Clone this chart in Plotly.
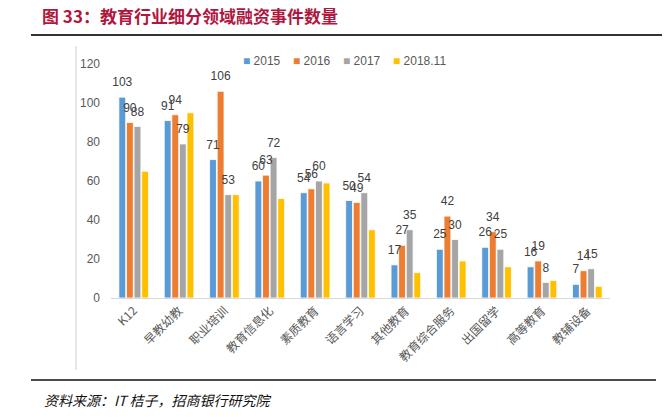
import plotly.graph_objects as go

# categories and series
categories = ["K12", "早教幼教", "职业培训", "教育信息化", "素质教育", "语言学习",
              "其他教育", "教育综合服务", "出国留学", "高等教育", "教辅设备"]
series_names = ["2015", "2016", "2017", "2018.11"]
v2015 = [103, 91, 71, 60, 54, 50, 17, 25, 26, 16, 7]
v2016 = [90, 94, 106, 63, 56, 49, 27, 42, 34, 19, 14]
v2017 = [88, 79, 53, 72, 60, 54, 35, 30, 25, 8, 15]
v2018 = [65, 95, 53, 51, 59, 35, 13, 19, 16, 9, 6]
y_ticks = [0, 20, 40, 60, 80, 100, 120]

colors = ["#5B9BD5", "#ED7D31", "#A5A5A5", "#FFC000"]
label_series = [True, True, True, False]  # 2018.11 has no value labels

W, H = 671, 417
OFF = 8  # the page body adds 8px, so targets are shifted back
L, R, T, B = 111 - OFF, 69, 64 - OFF, 127


def px_x(px):
    return (px - OFF - L) / (W - L - R)


def px_y(py):
    return (H - B - (py - OFF)) / (H - T - B)


fig = go.Figure()
for i, (name, vals, col) in enumerate(zip(series_names, [v2015, v2016, v2017, v2018], colors)):
    fig.add_trace(go.Bar(
        x=categories,
        y=vals,
        name=name,
        offsetgroup=str(i),
        marker=dict(color=col, line=dict(color="white", width=0.8)),
        showlegend=False,
    ))

# value labels as grouped text-only scatters, so they sit a bit above the bars
for i, (vals, lab) in enumerate(zip([v2015, v2016, v2017, v2018], label_series)):
    fig.add_trace(go.Scatter(
        x=categories,
        y=vals,
        mode="markers+text",
        offsetgroup=str(i),
        text=vals if lab else [""] * len(vals),
        textposition="top center",
        marker=dict(size=11, opacity=0),
        textfont=dict(size=12, color="#404040", family="Liberation Sans, Arial"),
        cliponaxis=False,
        showlegend=False,
        hoverinfo="skip",
    ))

# legend drawn as text items, spaced like the reference
legend_items = []
for name, col, xpos in zip(series_names, colors, [241, 291, 341, 391]):
    legend_items.append(dict(
        text=f"<span style='color:{col}'>■</span> {name}",
        xref="paper", yref="paper",
        x=px_x(xpos), y=px_y(61), xanchor="left", yanchor="middle",
        showarrow=False,
        font=dict(size=12, color="#595959", family="Liberation Sans, Arial"),
    ))

fig.update_layout(
    width=W,
    height=H,
    margin=dict(l=L, r=R, t=T, b=B),
    barmode="group",
    scattermode="group",
    bargap=0.33,
    bargroupgap=0.1,
    scattergap=0.33,
    plot_bgcolor="white",
    paper_bgcolor="white",
    font=dict(family="Liberation Sans, Noto Sans CJK SC", color="#595959", size=12),
    showlegend=False,
    title=dict(
        text="<b>图 33：教育行业细分领域融资事件数量</b>",
        font=dict(family="Noto Sans CJK SC", size=17, color="#B0173F"),
        xref="container", yref="container",
        x=(42 - OFF) / W, y=1 - 9.5 / H, xanchor="left", yanchor="middle",
    ),
    annotations=legend_items + [dict(
        text="<i>资料来源：IT 桔子，招商银行研究院</i>",
        xref="paper", yref="paper",
        x=px_x(42), y=px_y(400), xanchor="left", yanchor="middle",
        showarrow=False,
        font=dict(family="Noto Sans CJK SC", size=14, color="#111111"),
    )],
    shapes=[
        dict(type="line", xref="paper", yref="paper",
             x0=px_x(31), x1=px_x(662), y0=px_y(35), y1=px_y(35),
             line=dict(color="#333333", width=2)),
        dict(type="line", xref="paper", yref="paper",
             x0=px_x(31), x1=px_x(656), y0=px_y(380), y1=px_y(380),
             line=dict(color="#111111", width=1.5)),
        dict(type="line", xref="paper", yref="paper",
             x0=px_x(76), x1=px_x(76), y0=px_y(46), y1=px_y(370),
             line=dict(color="#D0D0D0", width=1)),
    ],
)

fig.update_xaxes(
    tickangle=-45,
    showline=True,
    linecolor="#D9D9D9",
    linewidth=1,
    ticks="",
    showgrid=False,
    automargin=False,
    tickfont=dict(size=12, color="#595959", family="Noto Sans CJK SC"),
)
fig.update_yaxes(
    range=[0, 120],
    tickvals=y_ticks,
    showgrid=False,
    zeroline=False,
    showline=False,
    ticks="",
    automargin=False,
    ticklabelstandoff=10,
    tickfont=dict(size=12, color="#595959", family="Liberation Sans, Arial"),
)

fig.write_html("out.html")
